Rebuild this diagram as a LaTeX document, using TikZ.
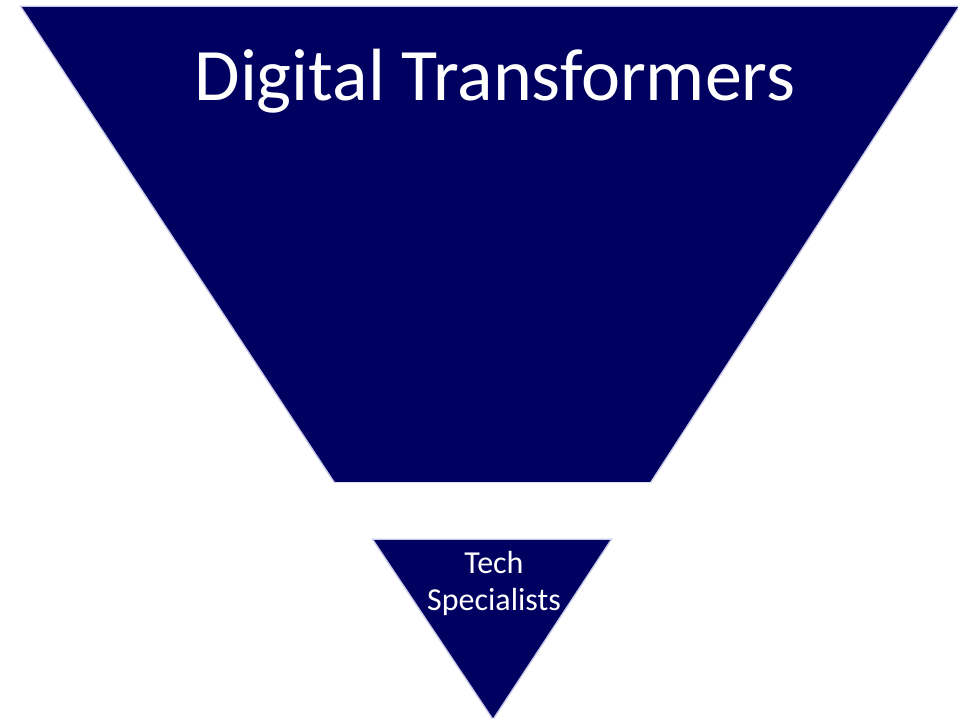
\documentclass[tikz,border=0pt]{standalone}
\usepackage{fontspec}
\setmainfont{Carlito}
\definecolor{funnelnavy}{RGB}{0,0,96}
\definecolor{funneledge}{RGB}{200,200,232}
\tikzset{
  funnelpart/.style={fill=funnelnavy, draw=none},
  rim/.style={draw=funneledge, line width=3pt, line join=miter},
  label/.style={text=white, align=center, inner sep=0pt}
}
\begin{document}
\begin{tikzpicture}[x=1pt, y=-1pt]
  \useasboundingbox (0,0) rectangle (958,718);
  % upper, wide part of the funnel
  \coordinate (tl) at (22,7);
  \coordinate (tr) at (958,7);
  \coordinate (br) at (650,482);
  \coordinate (bl) at (335,482);
  \draw[rim] (bl) -- (tl) -- (tr) -- (br);
  \fill[funnelpart] (tl) -- (tr) -- (br) -- (bl) -- cycle;
  \node[label, font=\fontsize{74}{88}\selectfont, anchor=base] (top) at (495,100) {Digital Transformers};
  % lower, narrow tip
  \coordinate (sl) at (374,540);
  \coordinate (sr) at (610,540);
  \coordinate (sa) at (493,718);
  \draw[rim] (sa) -- (sl) -- (sr) -- (sa);
  \fill[funnelpart] (sl) -- (sr) -- (sa) -- cycle;
  \node[label, font=\fontsize{32}{37}\selectfont, anchor=base] (tech) at (494,610) {Tech\\Specialists};
\end{tikzpicture}
\end{document}
